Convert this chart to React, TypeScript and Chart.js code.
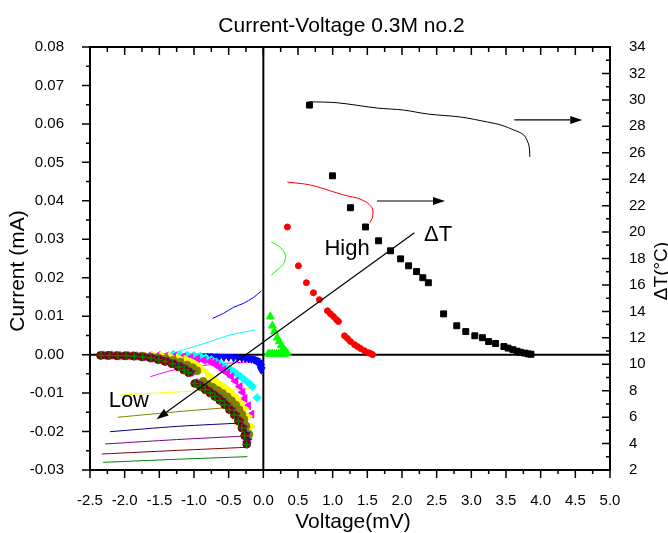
import React, { useEffect, useRef } from 'react';
import { Chart, registerables } from 'chart.js';
Chart.register(...registerables);

const FONT = '"Liberation Sans", Arial, Helvetica, sans-serif';

// ---------- text ----------
const CHART_TITLE = 'Current-Voltage 0.3M no.2';
const X_TITLE = 'Voltage(mV)';
const Y_TITLE = 'Current (mA)';
const Y1_TITLE = 'ΔT(°C)';

// ---------- tick values ----------
const xTicks = [-2.5, -2.0, -1.5, -1.0, -0.5, 0.0, 0.5, 1.0, 1.5, 2.0, 2.5, 3.0, 3.5, 4.0, 4.5, 5.0];
const yTicks = [-0.03, -0.02, -0.01, 0.0, 0.01, 0.02, 0.03, 0.04, 0.05, 0.06, 0.07, 0.08];
const y1Ticks = [2, 4, 6, 8, 10, 12, 14, 16, 18, 20, 22, 24, 26, 28, 30, 32, 34];

// ---------- current (markers, left axis) ----------
const s1X = [0.665, 0.997, 1.257, 1.474, 1.662, 1.835, 1.98, 2.095, 2.21, 2.30, 2.38, 2.60, 2.79, 2.92, 3.05, 3.16, 3.25, 3.35, 3.47, 3.53, 3.60, 3.66, 3.71, 3.77, 3.82, 3.86];
const s1Y = [0.0649, 0.0465, 0.0382, 0.0332, 0.0296, 0.0270, 0.0249, 0.0231, 0.0216, 0.0200, 0.0187, 0.0106, 0.0075, 0.0060, 0.0049, 0.0044, 0.0034, 0.0029, 0.0021, 0.0017, 0.0013, 0.0009, 0.0006, 0.0004, 0.0002, 0.0001];

const s2X = [0.347, 0.506, 0.621, 0.723, 0.809, 0.925, 0.968, 1.012, 1.055, 1.084, 1.171, 1.214, 1.257, 1.315, 1.358, 1.402, 1.46, 1.517, 1.546, 1.575];
const s2Y = [0.0332, 0.0231, 0.0187, 0.0161, 0.0143, 0.0114, 0.0106, 0.0099, 0.0091, 0.0086, 0.0049, 0.0042, 0.0034, 0.0026, 0.0021, 0.0016, 0.0010, 0.0005, 0.0003, 0.0];

const s3X = [0.10, 0.13, 0.16, 0.20, 0.23, 0.26, 0.29, 0.32, 0.35, 0.07, 0.10, 0.13, 0.16, 0.19, 0.22, 0.25, 0.28, 0.31];
const s3Y = [0.0099, 0.0075, 0.0060, 0.0044, 0.0034, 0.0024, 0.0016, 0.0009, 0.0003, 0.0002, 0.0002, 0.0002, 0.0002, 0.0002, 0.0002, 0.0002, 0.0002, 0.0002];

const s4X = [-0.85, -0.78, -0.71, -0.64, -0.57, -0.50, -0.43, -0.37, -0.31, -0.26, -0.21, -0.17, -0.13, -0.10, -0.07, -0.05, -0.04, -0.03];
const s4Y = [-0.0004, -0.0004, -0.0005, -0.0005, -0.0006, -0.0006, -0.0007, -0.0007, -0.0008, -0.0009, -0.0010, -0.0011, -0.0013, -0.0016, -0.0020, -0.0025, -0.0031, -0.0039];

const s5X = [-1.30, -1.20, -1.10, -1.00, -0.91, -0.83, -0.75, -0.68, -0.62, -0.55, -0.49, -0.43, -0.38, -0.33, -0.28, -0.23, -0.19, -0.16, -0.09];
const s5Y = [0.0001, 0.0000, -0.0001, -0.0002, -0.0004, -0.0008, -0.0013, -0.0019, -0.0025, -0.0031, -0.0037, -0.0043, -0.0050, -0.0057, -0.0064, -0.0071, -0.0077, -0.0083, -0.0112];

const s6X = [-1.64, -1.52, -1.40, -1.28, -1.16, -1.05, -0.95, -0.86, -0.77, -0.72, -0.68, -0.63, -0.58, -0.52, -0.46, -0.40, -0.34, -0.30, -0.27, -0.22, -0.17];
const s6Y = [-0.0002, -0.0002, -0.0003, -0.0004, -0.0006, -0.0008, -0.0011, -0.0015, -0.0018, -0.0022, -0.0027, -0.0033, -0.0040, -0.0048, -0.0057, -0.0069, -0.0083, -0.0098, -0.0114, -0.0133, -0.0155];

const s7X = [-1.70, -1.58, -1.46, -1.34, -1.22, -1.11, -1.02, -0.94, -0.87, -0.80, -0.74, -0.70, -0.64, -0.58, -0.53, -0.47, -0.42, -0.38, -0.33, -0.27, -0.22, -0.17];
const s7Y = [-0.0002, -0.0002, -0.0003, -0.0005, -0.0008, -0.0012, -0.0019, -0.0028, -0.0040, -0.0052, -0.0060, -0.0066, -0.0074, -0.0081, -0.0088, -0.0097, -0.0106, -0.0114, -0.0125, -0.0140, -0.0160, -0.0187];

const s8X = [-2.25, -2.12, -2.00, -1.88, -1.76, -1.64, -1.52, -1.41, -1.30, -1.20, -1.10, -1.02, -0.96, -0.87, -0.80, -0.73, -0.66, -0.59, -0.52, -0.46, -0.40, -0.35, -0.31, -0.28, -0.25, -0.21];
const s8Y = [-0.0002, -0.0002, -0.0003, -0.0003, -0.0004, -0.0006, -0.0008, -0.0011, -0.0015, -0.0020, -0.0027, -0.0034, -0.0042, -0.0070, -0.0078, -0.0085, -0.0093, -0.0101, -0.0110, -0.0120, -0.0131, -0.0143, -0.0156, -0.0169, -0.0186, -0.0207];

const s9X = [-2.30, -2.18, -2.06, -1.94, -1.82, -1.70, -1.58, -1.47, -1.37, -1.27, -1.18, -1.10, -1.04, -0.95, -0.88, -0.81, -0.74, -0.67, -0.60, -0.53, -0.46, -0.40, -0.34, -0.29, -0.25, -0.22];
const s9Y = [-0.0002, -0.0002, -0.0003, -0.0003, -0.0004, -0.0006, -0.0009, -0.0013, -0.0018, -0.0024, -0.0031, -0.0039, -0.0046, -0.0074, -0.0082, -0.0090, -0.0099, -0.0108, -0.0118, -0.0130, -0.0143, -0.0157, -0.0173, -0.0190, -0.0206, -0.0222];

const s10X = [-2.32, -2.20, -2.08, -1.96, -1.84, -1.72, -1.60, -1.49, -1.39, -1.29, -1.20, -1.12, -1.06, -0.97, -0.90, -0.83, -0.76, -0.69, -0.62, -0.55, -0.48, -0.41, -0.35, -0.30, -0.26, -0.24];
const s10Y = [-0.0002, -0.0002, -0.0003, -0.0003, -0.0004, -0.0006, -0.0009, -0.0013, -0.0018, -0.0024, -0.0032, -0.0040, -0.0047, -0.0074, -0.0082, -0.0091, -0.0099, -0.0108, -0.0118, -0.0129, -0.0142, -0.0156, -0.0172, -0.0190, -0.0210, -0.0228];

const s11X = [-2.35, -2.23, -2.11, -1.99, -1.87, -1.75, -1.63, -1.52, -1.42, -1.32, -1.23, -1.15, -1.08, -0.99, -0.91, -0.84, -0.77, -0.70, -0.63, -0.56, -0.49, -0.42, -0.36, -0.31, -0.27, -0.24];
const s11Y = [-0.0002, -0.0002, -0.0003, -0.0003, -0.0004, -0.0006, -0.0009, -0.0013, -0.0018, -0.0024, -0.0032, -0.0040, -0.0047, -0.0075, -0.0083, -0.0091, -0.0100, -0.0109, -0.0119, -0.0130, -0.0143, -0.0157, -0.0173, -0.0191, -0.0211, -0.0233];

const s12X = [-2.34, -2.22, -2.10, -1.98, -1.86, -1.74, -1.62, -1.51, -1.41, -1.31, -1.22, -1.14, -1.08, -0.99, -0.91, -0.84, -0.77, -0.70, -0.63, -0.56, -0.49, -0.42, -0.36, -0.31, -0.27, -0.24];
const s12Y = [-0.0002, -0.0002, -0.0003, -0.0003, -0.0004, -0.0006, -0.0009, -0.0013, -0.0018, -0.0024, -0.0032, -0.0040, -0.0047, -0.0075, -0.0083, -0.0091, -0.0100, -0.0109, -0.0119, -0.0130, -0.0143, -0.0157, -0.0173, -0.0191, -0.0211, -0.0234];

// ---------- ΔT (lines, right axis) ----------
const t1X = [0.665, 1.069, 1.647, 2.023, 2.370, 2.847, 3.237, 3.425, 3.613, 3.757, 3.829, 3.844];
const t1T = [29.86, 29.78, 29.38, 29.23, 28.93, 28.70, 28.32, 28.10, 27.72, 27.34, 26.58, 25.68];

const t2X = [0.347, 0.679, 1.069, 1.214, 1.358, 1.503, 1.575, 1.575, 1.532];
const t2T = [23.78, 23.56, 22.95, 22.73, 22.57, 22.20, 21.74, 21.14, 20.68];

const t3X = [0.116, 0.22, 0.30, 0.32, 0.29, 0.20, 0.116];
const t3T = [19.25, 18.94, 18.49, 18.11, 17.58, 17.13, 16.75];

const t4X = [-0.733, -0.574, -0.429, -0.285, -0.14, -0.03];
const t4T = [13.47, 13.85, 14.31, 14.61, 15.06, 15.54];

const t5X = [-1.296, -1.007, -0.77, -0.48, -0.12];
const t5T = [10.87, 11.33, 11.71, 12.21, 12.59];

const t6X = [-1.63, -1.45, -1.30, -1.05, -0.81, -0.50, -0.15];
const t6T = [9.06, 9.35, 9.56, 9.78, 9.94, 10.08, 10.19];

const t7X = [-2.07, -1.10, -0.16];
const t7T = [7.67, 7.94, 8.18];

const t8X = [-2.10, -1.15, -0.22];
const t8T = [5.99, 6.45, 6.84];

const t9X = [-2.21, -1.24, -0.22];
const t9T = [4.90, 5.30, 5.58];

const t10X = [-2.28, -1.25, -0.26];
const t10T = [3.97, 4.30, 4.57];

const t11X = [-2.33, -1.25, -0.23];
const t11T = [3.21, 3.48, 3.72];

const t12X = [-2.31, -1.25, -0.23];
const t12T = [2.58, 2.81, 3.01];

// ---------- annotations ----------
const arrowFromX = [3.62, 1.64, 2.18];
const arrowFromY = [28.48, 22.35, 0.0317];
const arrowToX = [4.60, 2.62, -1.54];
const arrowToY = [28.48, 22.35, -0.0168];
const arrowAxis = ['y1', 'y1', 'y'];

const noteText = ['High', 'Low', 'ΔT'];
const noteX = [1.207, -1.94, 2.52];
const noteY = [0.0259, -0.0136, 0.0295];

function fmt(v: number, d: number) {
  if (Math.abs(v) < 1e-9) v = 0;
  return v.toFixed(d);
}

function makeShape(kind: string, color: string, r: number) {
  const s = Math.ceil(r * 2 + 2);
  const c = document.createElement('canvas');
  c.width = s; c.height = s;
  const g = c.getContext('2d')!;
  g.fillStyle = color;
  g.beginPath();
  const cx = s / 2, cy = s / 2;
  const n = kind === 'star' ? 10 : 5;
  for (let i = 0; i < n; i++) {
    const a = -Math.PI / 2 + (i * 2 * Math.PI) / n;
    const rr = kind === 'star' ? (i % 2 === 0 ? r : r * 0.45) : r;
    const px = cx + Math.cos(a) * rr, py = cy + Math.sin(a) * rr;
    if (i === 0) g.moveTo(px, py); else g.lineTo(px, py);
  }
  g.closePath();
  g.fill();
  return c;
}

function drawArrow(ctx: CanvasRenderingContext2D, x1: number, y1: number, x2: number, y2: number) {
  const ang = Math.atan2(y2 - y1, x2 - x1);
  const hl = 12, hw = 4;
  const bx = x2 - Math.cos(ang) * hl, by = y2 - Math.sin(ang) * hl;
  ctx.beginPath();
  ctx.moveTo(x1, y1);
  ctx.lineTo(bx, by);
  ctx.stroke();
  ctx.beginPath();
  ctx.moveTo(x2, y2);
  ctx.lineTo(bx + Math.sin(ang) * hw, by - Math.cos(ang) * hw);
  ctx.lineTo(bx - Math.sin(ang) * hw, by + Math.cos(ang) * hw);
  ctx.closePath();
  ctx.fill();
}

const framePlugin = {
  id: 'originFrame',
  beforeDatasetsDraw(chart: any) {
    const { ctx, chartArea: a, scales } = chart;
    const y0 = scales.y.getPixelForValue(0);
    const x0 = scales.x.getPixelForValue(0);
    ctx.save();
    ctx.strokeStyle = '#000';
    ctx.lineWidth = 2;
    ctx.beginPath();
    ctx.moveTo(a.left, y0); ctx.lineTo(a.right, y0);
    ctx.moveTo(x0, a.top); ctx.lineTo(x0, a.bottom);
    ctx.stroke();
    ctx.restore();
  },
  afterDatasetsDraw(chart: any) {
    const { ctx, scales } = chart;
    ctx.save();
    ctx.strokeStyle = '#000';
    ctx.fillStyle = '#000';
    ctx.lineWidth = 1.2;
    for (let i = 0; i < arrowFromX.length; i++) {
      const ys = scales[arrowAxis[i]];
      drawArrow(ctx,
        scales.x.getPixelForValue(arrowFromX[i]), ys.getPixelForValue(arrowFromY[i]),
        scales.x.getPixelForValue(arrowToX[i]), ys.getPixelForValue(arrowToY[i]));
    }
    ctx.font = `22px ${FONT}`;
    ctx.textAlign = 'center';
    ctx.textBaseline = 'alphabetic';
    for (let i = 0; i < noteText.length; i++) {
      ctx.fillText(noteText[i], scales.x.getPixelForValue(noteX[i]), scales.y.getPixelForValue(noteY[i]));
    }
    ctx.restore();
  },
  afterDraw(chart: any) {
    const { ctx, chartArea: a, scales } = chart;
    const { x, y, y1 } = scales;
    ctx.save();
    ctx.strokeStyle = '#000';
    ctx.lineWidth = 2;
    ctx.strokeRect(a.left, a.top, a.right - a.left, a.bottom - a.top);
    ctx.lineWidth = 1.5;
    ctx.beginPath();
    const mids = (arr: number[]) => arr.slice(1).map((v, i) => (v + arr[i]) / 2);
    // bottom (out) and top (in)
    xTicks.forEach((v) => {
      const p = x.getPixelForValue(v);
      ctx.moveTo(p, a.bottom); ctx.lineTo(p, a.bottom + 8);
      ctx.moveTo(p, a.top); ctx.lineTo(p, a.top + 8);
    });
    mids(xTicks).forEach((v) => {
      const p = x.getPixelForValue(v);
      ctx.moveTo(p, a.bottom); ctx.lineTo(p, a.bottom + 4);
      ctx.moveTo(p, a.top); ctx.lineTo(p, a.top + 5);
    });
    // left (out)
    yTicks.forEach((v) => {
      const p = y.getPixelForValue(v);
      ctx.moveTo(a.left, p); ctx.lineTo(a.left - 8, p);
    });
    mids(yTicks).forEach((v) => {
      const p = y.getPixelForValue(v);
      ctx.moveTo(a.left, p); ctx.lineTo(a.left - 4, p);
    });
    // right (in)
    y1Ticks.forEach((v) => {
      const p = y1.getPixelForValue(v);
      ctx.moveTo(a.right, p); ctx.lineTo(a.right - 8, p);
    });
    mids(y1Ticks).forEach((v) => {
      const p = y1.getPixelForValue(v);
      ctx.moveTo(a.right, p); ctx.lineTo(a.right - 4, p);
    });
    ctx.stroke();

    // titles
    ctx.fillStyle = '#000';
    ctx.font = `21px ${FONT}`;
    ctx.textAlign = 'center';
    ctx.textBaseline = 'alphabetic';
    ctx.fillText(CHART_TITLE, 341.5, 32);
    ctx.fillText(X_TITLE, (a.left + a.right) / 2 + 3, 528);
    ctx.save();
    ctx.translate(24, 271);
    ctx.rotate(-Math.PI / 2);
    ctx.fillText(Y_TITLE, 0, 0);
    ctx.restore();
    ctx.save();
    ctx.font = `19px ${FONT}`;
    ctx.translate(667, 271);
    ctx.rotate(-Math.PI / 2);
    ctx.fillText(Y1_TITLE, 0, 0);
    ctx.restore();
    ctx.restore();
  },
};

export default function App() {
  const ref = useRef<HTMLCanvasElement>(null);
  useEffect(() => {
    const canvas = ref.current!;
    const star = makeShape('star', '#000080', 5);
    const penta = makeShape('pentagon', '#800080', 4.5);
    const pts = (xs: number[], ys: number[]) => xs.map((v, i) => ({ x: v, y: ys[i] }));
    let ord = 50;
    const marker = (label: string, xs: number[], ys: number[], color: string, style: any, radius: number, rotation = 0, bw = 1) => ({
      label, data: pts(xs, ys), yAxisID: 'y', showLine: false,
      pointStyle: style, pointRadius: radius, pointRotation: rotation,
      backgroundColor: color, borderColor: color, pointBorderWidth: bw, order: ord--,
    });
    const line = (label: string, xs: number[], ts: number[], color: string) => ({
      label, data: pts(xs, ts), yAxisID: 'y1', showLine: true, pointRadius: 0,
      borderColor: color, backgroundColor: color, borderWidth: 1, fill: false, tension: 0.3, order: 100,
    });
    const datasets: any[] = [
      line('T1', t1X, t1T, '#000000'),
      line('T2', t2X, t2T, '#ff0000'),
      line('T3', t3X, t3T, '#00ff00'),
      line('T4', t4X, t4T, '#0000ff'),
      line('T5', t5X, t5T, '#00ffff'),
      line('T6', t6X, t6T, '#ff00ff'),
      line('T7', t7X, t7T, '#ffff00'),
      line('T8', t8X, t8T, '#808000'),
      line('T9', t9X, t9T, '#000080'),
      line('T10', t10X, t10T, '#800080'),
      line('T11', t11X, t11T, '#800000'),
      line('T12', t12X, t12T, '#008000'),
      marker('I1', s1X, s1Y, '#000000', 'rect', 4.2),
      marker('I2', s2X, s2Y, '#ff0000', 'circle', 3),
      marker('I3', s3X, s3Y, '#00ff00', 'triangle', 4.5),
      marker('I4', s4X, s4Y, '#0000ff', 'triangle', 4.5, 180),
      marker('I5', s5X, s5Y, '#00ffff', 'rectRot', 4),
      marker('I6', s6X, s6Y, '#ff00ff', 'triangle', 4.5, 270),
      marker('I7', s7X, s7Y, '#ffff00', 'triangle', 4.5, 90),
      marker('I8', s8X, s8Y, '#808000', 'circle', 4),
      marker('I9', s9X, s9Y, '#000080', star, 5),
      marker('I10', s10X, s10Y, '#800080', penta, 4.5),
      marker('I11', s11X, s11Y, '#800000', 'circle', 3.8),
      marker('I12', s12X, s12Y, '#008000', 'cross', 4, 0, 1.5),
    ];
    const tickFont = { family: FONT, size: 15 };
    const chart = new Chart(canvas, {
      type: 'scatter',
      data: { datasets },
      options: {
        responsive: false,
        animation: false,
        events: [],
        layout: { padding: { top: 47, left: 0, right: 0, bottom: 0 } },
        plugins: { legend: { display: false }, tooltip: { enabled: false }, title: { display: false } },
        scales: {
          x: {
            type: 'linear', position: 'bottom', min: -2.5, max: 5,
            grid: { display: false }, border: { display: false },
            afterBuildTicks: (s: any) => { s.ticks = xTicks.map((v) => ({ value: v })); },
            ticks: { autoSkip: false, maxRotation: 0, minRotation: 0, padding: 14, color: '#000', font: tickFont, callback: (v: any) => fmt(Number(v), 1) },
            afterFit: (s: any) => { s.height = 63; },
          },
          y: {
            type: 'linear', position: 'left', min: -0.03, max: 0.08,
            grid: { display: false }, border: { display: false },
            afterBuildTicks: (s: any) => { s.ticks = yTicks.map((v) => ({ value: v })); },
            ticks: { autoSkip: false, padding: 18, color: '#000', font: tickFont, callback: (v: any) => fmt(Number(v), 2) },
            afterFit: (s: any) => { s.width = 90; },
          },
          y1: {
            type: 'linear', position: 'right', min: 2, max: 34,
            grid: { display: false }, border: { display: false },
            afterBuildTicks: (s: any) => { s.ticks = y1Ticks.map((v) => ({ value: v })); },
            ticks: { autoSkip: false, padding: 11, color: '#000', font: tickFont, callback: (v: any) => fmt(Number(v), 0) },
            afterFit: (s: any) => { s.width = 58; },
          },
        },
      } as any,
      plugins: [framePlugin],
    });
    return () => chart.destroy();
  }, []);
  return (
    <div style={{ position: 'fixed', left: 0, top: 0, width: 668, height: 533, background: '#fff' }}>
      <canvas ref={ref} width={668} height={533} style={{ display: 'block' }} />
    </div>
  );
}
